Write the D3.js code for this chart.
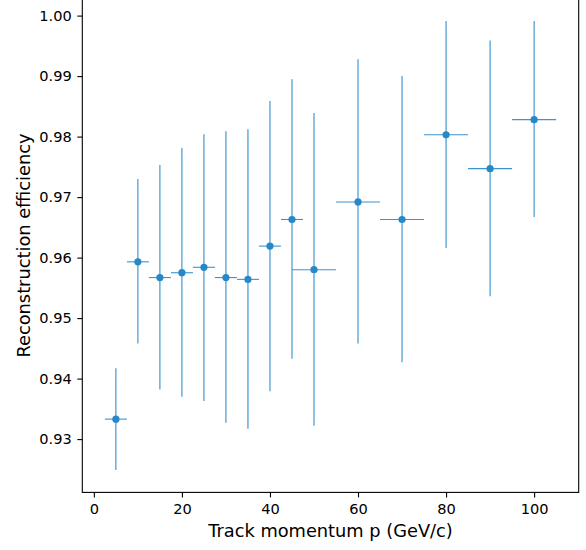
<!DOCTYPE html>
<html>
<head>
<meta charset="utf-8">
<script src="https://cdn.jsdelivr.net/npm/d3@7"></script>
<style>
  html, body { margin: 0; padding: 0; background: #fff; }
  svg { display: block; }
  text { font-family: "DejaVu Sans", sans-serif; fill: #000; }
</style>
</head>
<body>
<svg id="chart" width="586" height="550"></svg>
<script>
// Data
const momentum   = [5, 10, 15, 20, 25, 30, 35, 40, 45, 50, 60, 70, 80, 90, 100];
const momErr     = [2.5, 2.5, 2.5, 2.5, 2.5, 2.5, 2.5, 2.5, 2.5, 5, 5, 5, 5, 5, 5];
const efficiency = [0.9333, 0.9593, 0.9567, 0.9575, 0.9584, 0.9567, 0.9564, 0.9619, 0.9663, 0.9580, 0.9692, 0.9663, 0.9803, 0.9747, 0.9828];
const effLower   = [0.9249, 0.9458, 0.9382, 0.9370, 0.9363, 0.9327, 0.9317, 0.9379, 0.9433, 0.9322, 0.9458, 0.9427, 0.9616, 0.9536, 0.9667];
const effUpper   = [0.9417, 0.9730, 0.9753, 0.9781, 0.9804, 0.9809, 0.9812, 0.9859, 0.9895, 0.9839, 0.9928, 0.9900, 0.9991, 0.9959, 0.9991];
const xTicks = [0, 20, 40, 60, 80, 100];
const yTicks = [0.93, 0.94, 0.95, 0.96, 0.97, 0.98, 0.99, 1.00];
const xLabel = "Track momentum p (GeV/c)";
const yLabel = "Reconstruction efficiency";

const data = momentum.map((m, i) => ({
  x: m, xe: momErr[i], y: efficiency[i], lo: effLower[i], hi: effUpper[i]
}));

const color = "#2788c8";
const padL = 82.3, padR = 578.7, padT = -1.4, padB = 492.4;
const tickFont = "14.6px", labelFont = "17.8px";

// matplotlib-like 5% margins
const xmin = d3.min(data, d => d.x - d.xe), xmax = d3.max(data, d => d.x + d.xe);
const ymin = d3.min(data, d => d.lo), ymax = d3.max(data, d => d.hi);
const xpad = (xmax - xmin) * 0.05, ypad = (ymax - ymin) * 0.05;

const x = d3.scaleLinear().domain([xmin - xpad, xmax + xpad]).range([padL, padR]);
const y = d3.scaleLinear().domain([ymin - ypad, ymax + ypad]).range([padB, padT]);

const svg = d3.select("#chart");
const plot = svg.append("g");

// vertical error bars
plot.selectAll("line.ve").data(data).enter().append("line")
  .attr("class", "ve")
  .attr("x1", d => x(d.x)).attr("x2", d => x(d.x))
  .attr("y1", d => y(d.lo)).attr("y2", d => y(d.hi))
  .attr("stroke", color).attr("stroke-width", 1.1).attr("stroke-opacity", 0.95);

// horizontal error bars
plot.selectAll("line.he").data(data).enter().append("line")
  .attr("class", "he")
  .attr("x1", d => x(d.x - d.xe)).attr("x2", d => x(d.x + d.xe))
  .attr("y1", d => y(d.y)).attr("y2", d => y(d.y))
  .attr("stroke", color).attr("stroke-width", 1.1).attr("stroke-opacity", 0.9);

// markers
plot.selectAll("circle").data(data).enter().append("circle")
  .attr("cx", d => x(d.x)).attr("cy", d => y(d.y)).attr("r", 3.6)
  .attr("fill", color);

// frame
svg.append("rect")
  .attr("x", padL).attr("y", padT)
  .attr("width", padR - padL).attr("height", padB - padT)
  .attr("fill", "none").attr("stroke", "#000").attr("stroke-width", 1.1);

// x axis
const xAxis = d3.axisBottom(x).tickValues(xTicks).tickFormat(d3.format("d"))
  .tickSizeOuter(0).tickSize(5).tickPadding(6.3);
const gx = svg.append("g").attr("transform", `translate(0,${padB})`).call(xAxis);
gx.select(".domain").remove();
gx.selectAll(".tick line").attr("stroke", "#000").attr("stroke-width", 1.1);
gx.selectAll(".tick text").attr("font-size", tickFont).attr("font-family", "DejaVu Sans, sans-serif").attr("fill", "#000");

// y axis
const yAxis = d3.axisLeft(y).tickValues(yTicks).tickFormat(d3.format(".2f"))
  .tickSizeOuter(0).tickSize(5).tickPadding(5.6);
const gy = svg.append("g").attr("transform", `translate(${padL},0)`).call(yAxis);
gy.select(".domain").remove();
gy.selectAll(".tick line").attr("stroke", "#000").attr("stroke-width", 1.1);
gy.selectAll(".tick text").attr("font-size", tickFont).attr("font-family", "DejaVu Sans, sans-serif").attr("fill", "#000");

// axis labels
svg.append("text")
  .attr("x", (padL + padR) / 2).attr("y", 537)
  .attr("text-anchor", "middle").attr("font-size", labelFont)
  .text(xLabel);

svg.append("text")
  .attr("transform", `translate(30,${(padT + padB) / 2}) rotate(-90)`)
  .attr("text-anchor", "middle").attr("font-size", labelFont)
  .text(yLabel);
</script>
</body>
</html>
